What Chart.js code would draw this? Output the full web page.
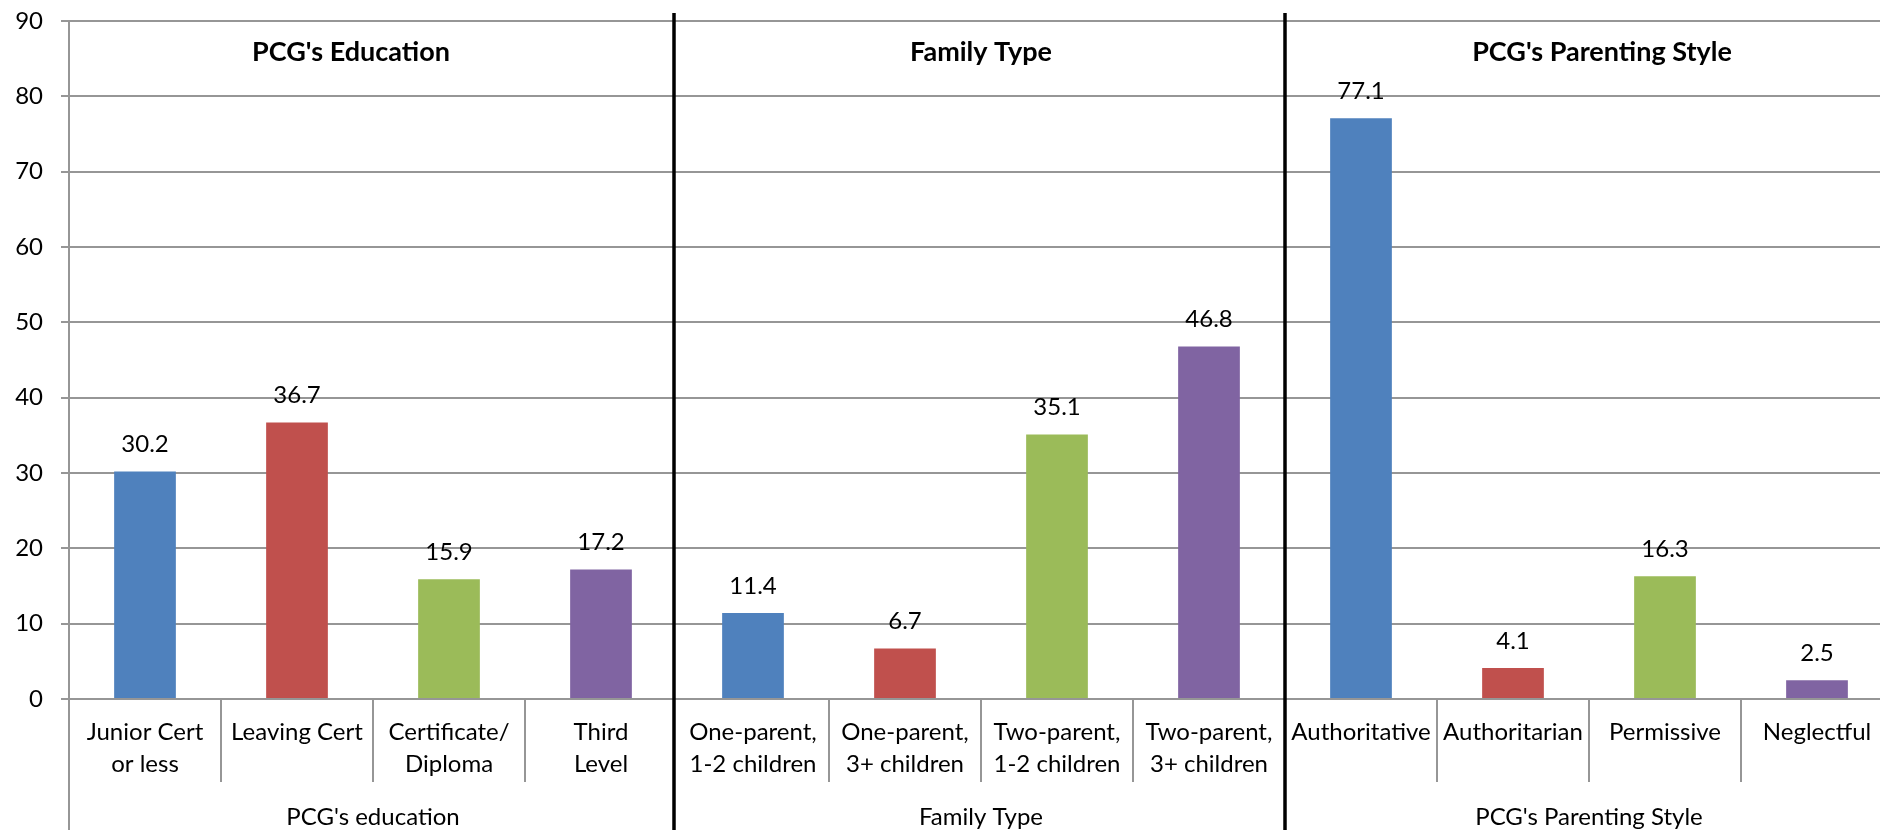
<!DOCTYPE html>
<html>
<head>
<meta charset="utf-8">
<script src="https://cdn.jsdelivr.net/npm/chart.js@4/dist/chart.umd.min.js"></script>
<style>
    html, body { margin: 0; padding: 0; background: #fff; overflow: hidden; }
    #wrap { width: 1900px; height: 830px; }
</style>
</head>
<body>
<div id="wrap"><canvas id="chart" width="1900" height="830"></canvas></div>
<script>
// データ
const categories = [
    ['Junior Cert', 'or less'], ['Leaving Cert'], ['Certificate/', 'Diploma'], ['Third', 'Level'],
    ['One-parent,', '1-2 children'], ['One-parent,', '3+ children'], ['Two-parent,', '1-2 children'], ['Two-parent,', '3+ children'],
    ['Authoritative'], ['Authoritarian'], ['Permissive'], ['Neglectful']
];
const values = [30.2, 36.7, 15.9, 17.2, 11.4, 6.7, 35.1, 46.8, 77.1, 4.1, 16.3, 2.5];
const groupLabels = ["PCG's education", 'Family Type', "PCG's Parenting Style"];
const groupTitles = ["PCG's Education", 'Family Type', "PCG's Parenting Style"];
const groupSize = 4;
const yMin = 0;
const yMax = 90;
const yStep = 10;

// スタイル
const palette = ['#4F81BD', '#C0504D', '#9BBB59', '#8064A2'];
const gridColor = '#969696';
const FONT = 'Lato, "Noto Sans", sans-serif';
const titleShift = [-22, 0, 13];

// グループ区切り・ラベル・データラベルの描画
const groupPlugin = {
    id: 'groupDecor',
    afterDraw(chart) {
        const ctx = chart.ctx;
        const x = chart.scales.x;
        const y = chart.scales.y;
        const area = chart.chartArea;
        const H = chart.height;
        const edge = i => (x.getPixelForValue(i - 1) + x.getPixelForValue(i)) / 2;

        ctx.save();
        // y軸の下への延長
        ctx.strokeStyle = gridColor;
        ctx.lineWidth = 2;
        ctx.beginPath();
        ctx.moveTo(area.left, area.bottom);
        ctx.lineTo(area.left, H);
        ctx.stroke();

        // カテゴリ区切り
        for (let i = 1; i < categories.length; i++) {
            if (i % groupSize === 0) continue;
            const px = Math.round(edge(i));
            ctx.beginPath();
            ctx.moveTo(px, area.bottom);
            ctx.lineTo(px, area.bottom + 83);
            ctx.stroke();
        }

        // グループ区切り（黒線）
        ctx.strokeStyle = '#000';
        ctx.lineWidth = 3.5;
        for (let g = 1; g < groupLabels.length; g++) {
            const px = edge(g * groupSize) - (g === 1 ? 3 : 0);
            ctx.beginPath();
            ctx.moveTo(px, 13);
            ctx.lineTo(px, H);
            ctx.stroke();
        }

        // データラベル
        ctx.fillStyle = '#000';
        ctx.textAlign = 'center';
        ctx.textBaseline = 'middle';
        ctx.font = '24px ' + FONT;
        values.forEach((v, i) => {
            ctx.fillText(v.toFixed(1), x.getPixelForValue(i), y.getPixelForValue(v) - 27);
        });

        // グループ名（下）とタイトル（上）
        groupLabels.forEach((label, g) => {
            const left = edge(g * groupSize) || x.left;
            const rightIdx = (g + 1) * groupSize;
            const right = rightIdx < categories.length ? edge(rightIdx) : x.right;
            const cx = (left + right) / 2;
            ctx.font = '24px ' + FONT;
            ctx.fillText(label, cx, 817);
            ctx.font = 'bold 27px ' + FONT;
            ctx.fillText(groupTitles[g], cx + titleShift[g], 52);
        });
        ctx.restore();
    }
};

const ctx = document.getElementById('chart').getContext('2d');
new Chart(ctx, {
    type: 'bar',
    data: {
        labels: categories,
        datasets: [{
            data: values,
            backgroundColor: values.map((v, i) => palette[i % groupSize]),
            borderWidth: 0,
            categoryPercentage: 1,
            barPercentage: 0.406
        }]
    },
    options: {
        responsive: false,
        animation: false,
        devicePixelRatio: 1,
        layout: { padding: { top: 21, right: 7, left: 0, bottom: 0 } },
        plugins: {
            legend: { display: false },
            tooltip: { enabled: false },
            title: { display: false }
        },
        scales: {
            x: {
                grid: { display: false, drawTicks: false },
                border: { display: true, color: gridColor, width: 2 },
                ticks: {
                    color: '#000',
                    font: { family: FONT, size: 24, lineHeight: 1.3 },
                    padding: 18,
                    maxRotation: 0,
                    autoSkip: false
                },
                afterFit(scale) {
                    scale.height = 131;
                    scale.paddingLeft = 0;
                    scale.paddingRight = 0;
                }
            },
            y: {
                min: yMin,
                max: yMax,
                grid: { color: gridColor, lineWidth: 2, tickLength: 8 },
                border: { display: true, color: gridColor, width: 2 },
                ticks: {
                    stepSize: yStep,
                    color: '#000',
                    font: { family: FONT, size: 24 },
                    padding: 18
                },
                afterFit(scale) {
                    scale.width = 69;
                    scale.paddingTop = 0;
                    scale.paddingBottom = 0;
                }
            }
        }
    },
    plugins: [groupPlugin]
});
</script>
</body>
</html>
